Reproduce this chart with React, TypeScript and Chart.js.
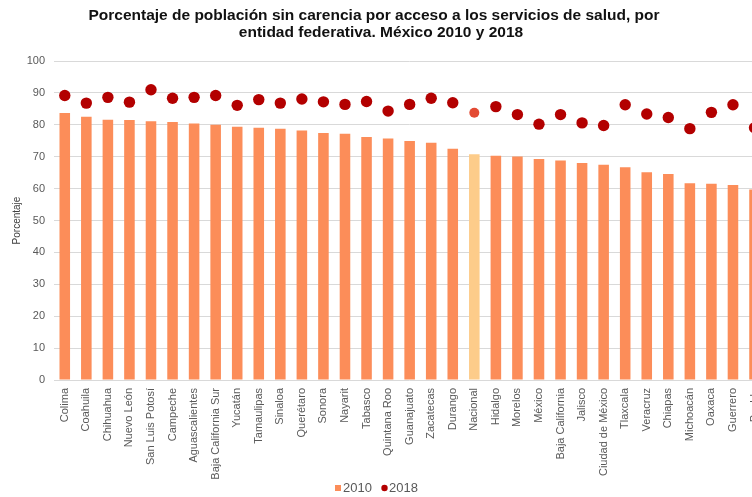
import React, { useEffect, useRef } from "react";
import { Chart, registerables } from "chart.js";

Chart.register(...registerables);

const categories = [
  "Colima", "Coahuila", "Chihuahua", "Nuevo León", "San Luis Potosí", "Campeche",
  "Aguascalientes", "Baja California Sur", "Yucatán", "Tamaulipas", "Sinaloa",
  "Querétaro", "Sonora", "Nayarit", "Tabasco", "Quintana Roo", "Guanajuato",
  "Zacatecas", "Durango", "Nacional", "Hidalgo", "Morelos", "México",
  "Baja California", "Jalisco", "Ciudad de México", "Tlaxcala", "Veracruz",
  "Chiapas", "Michoacán", "Oaxaca", "Guerrero", "Puebla",
];

const values2010 = [
  83.7, 82.5, 81.6, 81.5, 81.1, 80.9, 80.4, 80.0, 79.4, 79.1, 78.8,
  78.2, 77.4, 77.2, 76.2, 75.7, 74.9, 74.4, 72.5, 70.8, 70.3, 70.1,
  69.3, 68.8, 68.0, 67.5, 66.7, 65.1, 64.6, 61.7, 61.5, 61.1, 59.7,
];

const values2018 = [
  89.2, 86.8, 88.6, 87.1, 91.0, 88.3, 88.6, 89.2, 86.1, 87.9, 86.8,
  88.1, 87.2, 86.4, 87.3, 84.3, 86.4, 88.3, 86.9, 83.8, 85.7, 83.2,
  80.2, 83.2, 80.6, 79.8, 86.3, 83.4, 82.3, 78.8, 83.9, 86.3, 79.1,
];

const titleLines = [
  "Porcentaje de población sin carencia por acceso a los servicios de salud, por",
  "entidad federativa. México 2010 y 2018",
];
const yAxisTitle = "Porcentaje";
const seriesLabels = ["2010", "2018"];
const nationalLabel = "Nacional";
const yMin = 0;
const yMax = 100;
const yStep = 10;

const BAR = "#FC8D59";
const BAR_NAT = "#FDCC8A";
const PT = "#B30000";
const PT_NAT = "#E34A33";
const FONT = "'Liberation Sans', Arial, sans-serif";

const overlayPlugin = {
  id: "overlay",
  afterDraw(chart: any) {
    const ctx = chart.ctx as CanvasRenderingContext2D;
    ctx.save();
    ctx.fillStyle = "#111";
    ctx.font = `bold 15.5px ${FONT}`;
    ctx.textAlign = "center";
    ctx.textBaseline = "middle";
    ctx.fillText(titleLines[0], 374, 16);
    ctx.fillText(titleLines[1], 381, 33);

    // legend
    ctx.font = `13px ${FONT}`;
    ctx.textAlign = "left";
    ctx.fillStyle = BAR;
    ctx.fillRect(335, 485, 6, 6);
    ctx.fillStyle = "#595959";
    ctx.fillText(seriesLabels[0], 343, 488.5);
    ctx.fillStyle = PT;
    ctx.beginPath();
    ctx.arc(384.5, 488, 3.2, 0, Math.PI * 2);
    ctx.fill();
    ctx.fillStyle = "#595959";
    ctx.fillText(seriesLabels[1], 389, 488.5);
    ctx.restore();
  },
};

export default function App() {
  const ref = useRef<HTMLCanvasElement | null>(null);

  useEffect(() => {
    if (!ref.current) return;
    const natIdx = categories.indexOf(nationalLabel);
    const barColors = categories.map((_, i) => (i === natIdx ? BAR_NAT : BAR));
    const ptColors = categories.map((_, i) => (i === natIdx ? PT_NAT : PT));
    const ptRadius = categories.map((_, i) => (i === natIdx ? 5 : 5.7));

    const chart = new Chart(ref.current, {
      type: "bar",
      data: {
        labels: categories,
        datasets: [
          {
            type: "line",
            label: seriesLabels[1],
            data: values2018,
            showLine: false,
            pointRadius: ptRadius,
            pointHoverRadius: ptRadius,
            pointBackgroundColor: ptColors,
            pointBorderColor: ptColors,
            pointBorderWidth: 0,
            borderColor: PT,
            backgroundColor: PT,
            order: 0,
          } as any,
          {
            type: "bar",
            label: seriesLabels[0],
            data: values2010,
            backgroundColor: barColors,
            borderWidth: 0,
            categoryPercentage: 1,
            barPercentage: 0.49,
            order: 1,
          },
        ],
      },
      options: {
        responsive: false,
        animation: false,
        layout: { padding: { top: 61, right: 4.5, bottom: 0, left: 0 } },
        plugins: {
          legend: { display: false },
          title: { display: false },
          tooltip: { enabled: false },
        },
        scales: {
          x: {
            offset: true,
            grid: { display: false },
            border: { display: false },
            ticks: {
              autoSkip: false,
              maxRotation: 90,
              minRotation: 90,
              padding: 0,
              color: "#595959",
              font: { family: FONT, size: 11 },
            },
            afterFit: (s: any) => {
              s.height = 117;
            },
          },
          y: {
            min: yMin,
            max: yMax,
            grid: { color: "#d9d9d9", lineWidth: 1, drawTicks: false },
            border: { display: false },
            ticks: {
              stepSize: yStep,
              padding: 9,
              color: "#595959",
              font: { family: FONT, size: 11 },
            },
            title: {
              display: true,
              text: yAxisTitle,
              color: "#404040",
              font: { family: FONT, size: 10 },
              padding: { top: 11, bottom: 0 },
            },
            afterFit: (s: any) => {
              s.width = 54;
            },
          },
        },
      },
      plugins: [overlayPlugin],
    });
    return () => chart.destroy();
  }, []);

  return (
    <div
      style={{
        position: "absolute",
        left: 0,
        top: 0,
        width: 752,
        height: 497,
        overflow: "hidden",
        background: "#fff",
      }}
    >
      <canvas ref={ref} width={771} height={497} style={{ display: "block" }} />
    </div>
  );
}
